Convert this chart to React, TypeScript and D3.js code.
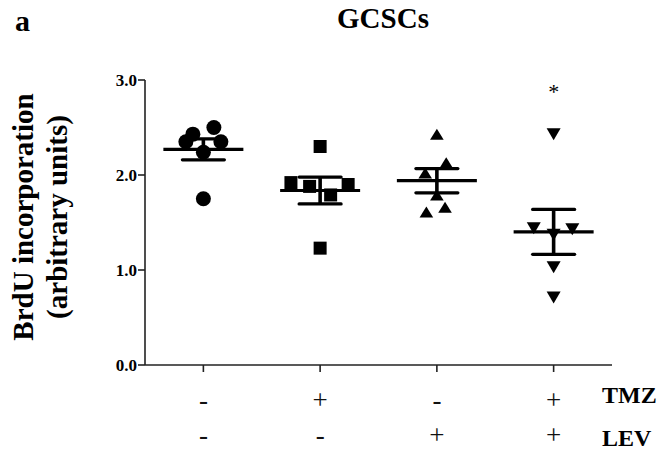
import React from 'react';
import * as d3 from 'd3';

// treatment groups and the +/- rows under the x axis
const groups = ['ctrl', 'tmz', 'lev', 'tmzLev'];
const tmzRow = ['-', '+', '-', '+'];
const levRow = ['-', '-', '+', '+'];
const rowLabels = ['TMZ', 'LEV'];
const yTicks = [0, 1, 2, 3];

// BrdU values per group
const ctrlValues = [2.35, 2.43, 2.5, 2.35, 2.24, 1.75];
const tmzValues = [2.3, 1.92, 1.88, 1.79, 1.9, 1.23];
const levValues = [2.43, 2.13, 2.02, 1.61, 1.66, 1.79];
const tmzLevValues = [2.43, 1.44, 1.43, 1.37, 1.03, 0.71];

// horizontal jitter of each point, in fractions of a category
const ctrlJitter = [-0.15, -0.09, 0.09, 0.15, 0, 0];
const tmzJitter = [0, -0.25, -0.09, 0.09, 0.24, 0];
const levJitter = [0, 0.08, -0.1, -0.09, 0.07, 0];
const tmzLevJitter = [0, -0.17, 0.16, 0, 0, 0];

const markers = ['circle', 'square', 'triUp', 'triDown'];
const significant = [false, false, false, true];

const W = 661;
const H = 452;
const margin = { top: 80, right: 49, bottom: 87, left: 145 };
const FONT = '"Liberation Serif", "Times New Roman", serif';

function marker(kind: string, cx: number, cy: number, key: string) {
  if (kind === 'circle') return <circle key={key} cx={cx} cy={cy} r={7.5} fill="#000" />;
  if (kind === 'square') return <rect key={key} x={cx - 6.5} y={cy - 6.5} width={13} height={13} fill="#000" />;
  if (kind === 'triUp')
    return <path key={key} d={`M${cx},${cy - 5.5}L${cx + 6.8},${cy + 5.5}L${cx - 6.8},${cy + 5.5}Z`} fill="#000" />;
  return <path key={key} d={`M${cx - 7},${cy - 6}L${cx + 7},${cy - 6}L${cx},${cy + 6}Z`} fill="#000" />;
}

export default function App() {
  const series = [ctrlValues, tmzValues, levValues, tmzLevValues];
  const jitters = [ctrlJitter, tmzJitter, levJitter, tmzLevJitter];

  const x = d3.scaleBand().domain(groups).range([margin.left, W - margin.right]).padding(0);
  const y = d3.scaleLinear().domain([0, 3]).range([H - margin.bottom, margin.top]);
  const bw = x.bandwidth();
  const cx = (g: string) => (x(g) as number) + bw / 2;
  const y0 = y(0);

  return (
    <div style={{ position: 'absolute', left: 0, top: 0 }}>
      <svg width={W} height={H} style={{ display: 'block', fontFamily: FONT }}>
        <rect width={W} height={H} fill="#fff" />
        <text x={15} y={31} fontSize={30} fontWeight="bold">a</text>
        <text x={383} y={28} fontSize={29} fontWeight="bold" textAnchor="middle">GCSCs</text>

        {/* y axis label */}
        <g transform="translate(0,217) rotate(-90)">
          <text x={0} y={33} fontSize={29} fontWeight="bold" textAnchor="middle">BrdU incorporation</text>
          <text x={0} y={67} fontSize={29} fontWeight="bold" textAnchor="middle">(arbitrary units)</text>
        </g>

        {/* y axis */}
        <line x1={margin.left} x2={margin.left} y1={y(3)} y2={y0} stroke="#222" strokeWidth={1.6} />
        {yTicks.map((t) => (
          <g key={t}>
            <line x1={margin.left - 7} x2={margin.left} y1={y(t)} y2={y(t)} stroke="#222" strokeWidth={1.6} />
            <text x={margin.left - 8} y={y(t)} dy="0.35em" fontSize={17} fontWeight="bold" textAnchor="end">
              {d3.format('.1f')(t)}
            </text>
          </g>
        ))}

        {/* x axis */}
        <line x1={margin.left} x2={W - margin.right} y1={y0} y2={y0} stroke="#222" strokeWidth={1.6} />
        {groups.map((g) => (
          <line key={g} x1={cx(g)} x2={cx(g)} y1={y0} y2={y0 + 7} stroke="#222" strokeWidth={1.6} />
        ))}

        {/* points */}
        {groups.map((g, gi) =>
          series[gi].map((v, i) => marker(markers[gi], cx(g) + jitters[gi][i] * bw, y(v), `${g}-${i}`))
        )}

        {/* mean +/- SEM */}
        {groups.map((g, gi) => {
          const vals = series[gi];
          const m = d3.mean(vals) as number;
          const sem = (d3.deviation(vals) as number) / Math.sqrt(vals.length);
          const c = cx(g);
          return (
            <g key={`err-${g}`} stroke="#000" strokeWidth={3.2}>
              <line x1={c - 40} x2={c + 40} y1={y(m)} y2={y(m)} />
              <line x1={c} x2={c} y1={y(m + sem)} y2={y(m - sem)} strokeWidth={3.6} />
              <line x1={c - 21} x2={c + 21} y1={y(m + sem)} y2={y(m + sem)} strokeLinecap="round" />
              <line x1={c - 21} x2={c + 21} y1={y(m - sem)} y2={y(m - sem)} strokeLinecap="round" />
            </g>
          );
        })}

        {groups.map((g, gi) =>
          significant[gi] ? (
            <text key={`sig-${g}`} x={cx(g)} y={y(2.8)} fontSize={22} textAnchor="middle">*</text>
          ) : null
        )}

        {/* treatment rows */}
        {[tmzRow, levRow].map((row, ri) => (
          <g key={rowLabels[ri]}>
            {row.map((s, i) => (
              <text key={i} x={cx(groups[i])} y={409 + ri * 35} fontSize={27} textAnchor="middle" fill="#111">{s}</text>
            ))}
            <text x={602} y={403 + ri * 43} fontSize={24} fontWeight="bold">{rowLabels[ri]}</text>
          </g>
        ))}
      </svg>
    </div>
  );
}
